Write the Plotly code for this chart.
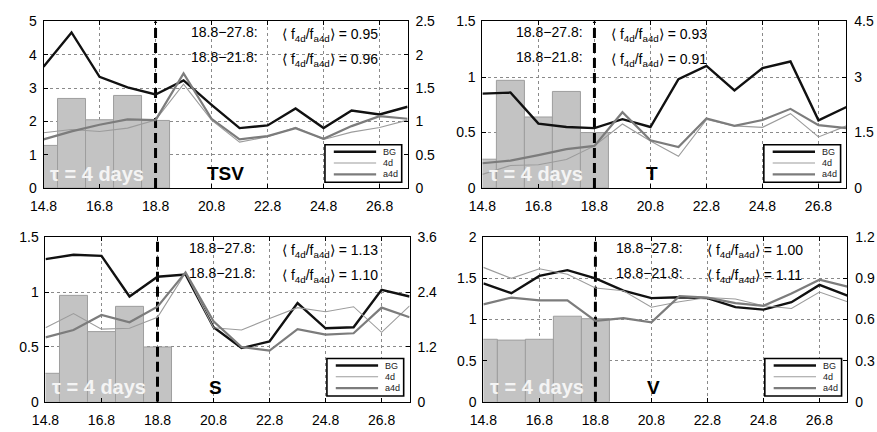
import plotly.graph_objects as go

# ---------------------------------------------------------------- data
dates = ["14.8", "15.8", "16.8", "17.8", "18.8", "19.8", "20.8",
         "21.8", "22.8", "23.8", "24.8", "25.8", "26.8", "27.8"]
bar_dates = dates[:5]
split_date = "18.8"
tick_dates = dates[::2]

# TSV
tsv_bg = [3.64, 4.67, 3.34, 3.02, 2.81, 3.23, 2.50, 1.80, 1.88, 2.39, 1.80, 2.33, 2.21, 2.44]
tsv_4d = [0.83, 0.88, 0.85, 0.90, 1.02, 1.56, 1.02, 0.69, 0.77, 0.91, 0.73, 0.84, 0.91, 1.02]
tsv_a4d = [0.73, 0.85, 0.95, 1.03, 1.02, 1.72, 1.04, 0.73, 0.78, 0.90, 0.74, 0.93, 1.08, 1.04]
tsv_bars = [1.28, 2.69, 2.05, 2.78, 2.03]
tsv_ratios = ["0.95", "0.96"]

# T
t_bg = [0.85, 0.86, 0.58, 0.55, 0.54, 0.62, 0.55, 0.98, 1.10, 0.88, 1.08, 1.14, 0.61, 0.73]
t_4d = [0.37, 0.61, 0.63, 0.77, 1.14, 1.73, 1.27, 0.86, 1.85, 1.68, 1.64, 2.01, 1.38, 1.68]
t_a4d = [0.67, 0.74, 0.89, 1.05, 1.14, 2.05, 1.29, 1.11, 1.88, 1.68, 1.84, 2.14, 1.70, 1.62]
t_bars = [0.26, 0.97, 0.64, 0.87, 0.50]
t_ratios = ["0.93", "0.91"]

# S
s_bg = [1.30, 1.34, 1.33, 0.96, 1.14, 1.16, 0.68, 0.49, 0.55, 0.90, 0.67, 0.68, 1.02, 0.96]
s_4d = [1.62, 1.93, 1.59, 1.61, 1.85, 2.82, 1.62, 1.57, 1.82, 2.06, 1.97, 2.08, 1.52, 2.10]
s_a4d = [1.41, 1.57, 1.90, 1.74, 2.08, 2.83, 1.76, 1.20, 1.12, 1.59, 1.47, 1.50, 2.06, 1.85]
s_bars = [0.26, 0.97, 0.64, 0.87, 0.50]
s_ratios = ["1.13", "1.10"]

# V
v_bg = [1.44, 1.32, 1.53, 1.60, 1.50, 1.35, 1.26, 1.27, 1.26, 1.15, 1.12, 1.21, 1.42, 1.29]
v_4d = [0.98, 0.90, 0.97, 0.93, 0.83, 0.81, 0.69, 0.73, 0.76, 0.75, 0.70, 0.68, 0.80, 0.73]
v_a4d = [0.71, 0.76, 0.74, 0.74, 0.59, 0.61, 0.58, 0.77, 0.76, 0.72, 0.70, 0.79, 0.89, 0.84]
v_bars = [0.76, 0.75, 0.76, 1.04, 1.01]
v_ratios = ["1.00", "1.11"]

range_labels = ["18.8\u221227.8:", "18.8\u221221.8:"]
series_names = ["BG", "4d", "a4d"]
tau_label = "\u03c4 = 4 days"

# ---------------------------------------------------------------- styles
W, H = 877, 432
FONT = "Liberation Sans, Arial, Helvetica, sans-serif"
line_styles = {
    "BG": dict(color="#111111", width=2.4),
    "4d": dict(color="#9c9c9c", width=1.1),
    "a4d": dict(color="#7c7c7c", width=2.2),
}
grid = dict(showgrid=True, griddash="dot", gridcolor="#8a8a8a", gridwidth=1)

panels = [
    # plot box in px (left, top, right, bottom) and text offsets inside it
    dict(name="TSV", bg=tsv_bg, f4=tsv_4d, a4=tsv_a4d, bars=tsv_bars, ratios=tsv_ratios,
         lmax=5, ldt=1, rmax=2.5, rdt=0.5, box=(30, 14, 400, 187), lab=220, rat=240),
    dict(name="T", bg=t_bg, f4=t_4d, a4=t_a4d, bars=t_bars, ratios=t_ratios,
         lmax=1.5, ldt=0.5, rmax=4.5, rdt=1.5, box=(476, 14, 846, 187), lab=104, rat=129),
    dict(name="S", bg=s_bg, f4=s_4d, a4=s_a4d, bars=s_bars, ratios=s_ratios,
         lmax=1.5, ldt=0.5, rmax=3.6, rdt=1.2, box=(32, 238, 402, 409), lab=216, rat=238),
    dict(name="V", bg=v_bg, f4=v_4d, a4=v_a4d, bars=v_bars, ratios=v_ratios,
         lmax=2, ldt=0.5, rmax=1.2, rdt=0.3, box=(477, 238, 847, 409), lab=205, rat=225),
]


def px(x):
    return x / W


def py(y):
    return 1 - y / H


fig = go.Figure()
layout = dict(
    width=W, height=H, margin=dict(l=0, r=0, t=0, b=0),
    paper_bgcolor="white", plot_bgcolor="white", showlegend=False,
    font=dict(family=FONT, size=14, color="black"),
)
shapes, annotations = [], []

for k, p in enumerate(panels, start=1):
    xa = f"x{k}" if k > 1 else "x"
    yl = f"y{2 * k - 1}" if k > 1 else "y"
    yr = f"y{2 * k}"
    xa_key = "xaxis" + (str(k) if k > 1 else "")
    yl_key = "yaxis" + (str(2 * k - 1) if k > 1 else "")
    yr_key = "yaxis" + str(2 * k)
    L, T, R, B = p["box"]

    layout[xa_key] = dict(
        domain=[px(L), px(R)], anchor=yl, type="category",
        categoryorder="array", categoryarray=dates, range=[0, len(dates) - 1],
        tickmode="array", tickvals=tick_dates, ticktext=tick_dates,
        showline=True, linecolor="black", linewidth=1, mirror="ticks",
        ticks="inside", ticklen=4, tickcolor="black", zeroline=False,
        ticklabelstandoff=5, **grid,
    )
    layout[yl_key] = dict(
        domain=[py(B), py(T)], anchor=xa, range=[0, p["lmax"]],
        tick0=0, dtick=p["ldt"], showline=True, linecolor="black", linewidth=1,
        ticks="inside", ticklen=4, tickcolor="black", zeroline=False,
        ticklabelstandoff=3, **grid,
    )
    layout[yr_key] = dict(
        overlaying=yl, side="right", anchor=xa, range=[0, p["rmax"]],
        tick0=0, dtick=p["rdt"], showline=True, linecolor="black", linewidth=1,
        ticks="inside", ticklen=4, tickcolor="black", zeroline=False, showgrid=False,
        ticklabelstandoff=4,
    )

    # daily bars for the first days
    fig.add_trace(go.Bar(
        x=bar_dates, y=p["bars"], width=1, xaxis=xa, yaxis=yl,
        marker=dict(color="#c3c3c3", line=dict(color="#9e9e9e", width=1)),
        hoverinfo="skip",
    ))
    # start of the comparison window
    fig.add_trace(go.Scatter(
        x=[split_date, split_date], y=[0, p["lmax"]], mode="lines", xaxis=xa, yaxis=yl,
        line=dict(color="black", width=3, dash="10px,5px"), hoverinfo="skip",
    ))
    fig.add_trace(go.Scatter(x=dates, y=p["bg"], mode="lines", xaxis=xa, yaxis=yl,
                             line=line_styles["BG"], name="BG"))
    fig.add_trace(go.Scatter(x=dates, y=p["f4"], mode="lines", xaxis=xa, yaxis=yr,
                             line=line_styles["4d"], name="4d"))
    fig.add_trace(go.Scatter(x=dates, y=p["a4"], mode="lines", xaxis=xa, yaxis=yr,
                             line=line_styles["a4d"], name="a4d"))

    # ratio statements
    for row, (lbl, val) in enumerate(zip(range_labels, p["ratios"])):
        yc = T + 11 + 26 * row
        annotations.append(dict(
            x=px(L + p["lab"]), y=py(yc), xref="paper", yref="paper",
            xanchor="right", yanchor="middle", showarrow=False, text=lbl,
            font=dict(size=14, color="black"),
        ))
        annotations.append(dict(
            x=px(L + p["rat"]), y=py(yc + 3), xref="paper", yref="paper",
            xanchor="left", yanchor="middle", showarrow=False,
            text=f"\u27e8 f<sub>4d</sub>/f<sub>a4d</sub>\u27e9 = {val}",
            font=dict(size=14, color="black"),
        ))

    # panel name and window length
    annotations.append(dict(
        x=px(L + 164), y=py(B - 15), xref="paper", yref="paper",
        xanchor="left", yanchor="middle", showarrow=False,
        text=f"<b>{p['name']}</b>", font=dict(size=19, color="black"),
    ))
    annotations.append(dict(
        x=px(L + 5), y=py(B - 15), xref="paper", yref="paper",
        xanchor="left", yanchor="middle", showarrow=False,
        text=f"<b>{tau_label}</b>", font=dict(size=20, color="#f4f4f4"),
    ))

    # legend box
    bx0, bx1, by0, by1 = R - 84, R - 6, B - 45, B - 6
    shapes.append(dict(type="rect", xref="paper", yref="paper",
                       x0=px(bx0), x1=px(bx1), y0=py(by1), y1=py(by0),
                       fillcolor="white", line=dict(color="black", width=1.6)))
    for i, nm in enumerate(series_names):
        ly = by0 + 7.3 + 11.7 * i
        st = line_styles[nm]
        shapes.append(dict(type="line", xref="paper", yref="paper",
                           x0=px(bx0 + 9), x1=px(bx0 + 52), y0=py(ly), y1=py(ly),
                           line=dict(color=st["color"], width=st["width"])))
        annotations.append(dict(
            x=px(bx0 + 57), y=py(ly), xref="paper", yref="paper",
            xanchor="left", yanchor="middle", showarrow=False, text=nm,
            font=dict(size=9, color="#222222"),
        ))

layout["shapes"] = shapes
layout["annotations"] = annotations
fig.update_layout(**layout)
fig.write_html("out.html")
